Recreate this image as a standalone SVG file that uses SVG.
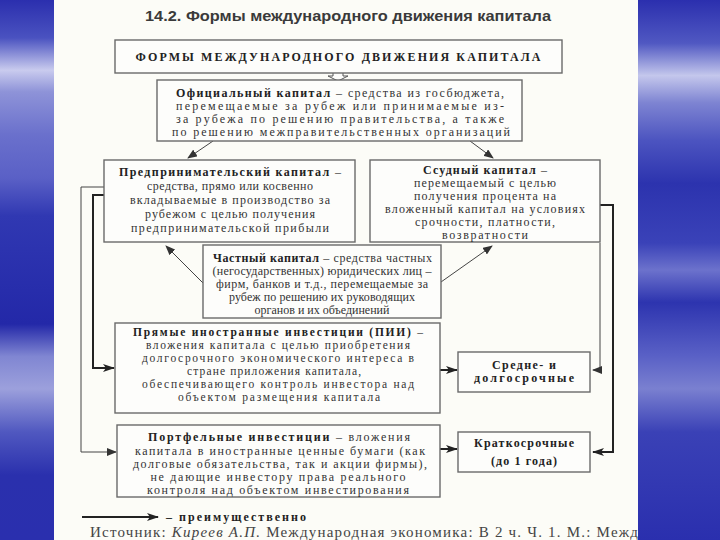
<svg xmlns="http://www.w3.org/2000/svg" width="720" height="540" viewBox="0 0 720 540">
<defs>
<linearGradient id="bandL" x1="0" y1="0" x2="0" y2="1">
<stop offset="0" stop-color="#2b2fae"/>
<stop offset="0.07" stop-color="#4a52c0"/>
<stop offset="0.13" stop-color="#c9cbee"/>
<stop offset="0.17" stop-color="#8e93d8"/>
<stop offset="0.25" stop-color="#6a70cc"/>
<stop offset="0.33" stop-color="#5a60c6"/>
<stop offset="0.40" stop-color="#3038b2"/>
<stop offset="0.60" stop-color="#2328a8"/>
<stop offset="0.66" stop-color="#8086d2"/>
<stop offset="0.72" stop-color="#9ca0dc"/>
<stop offset="0.80" stop-color="#5058c0"/>
<stop offset="0.88" stop-color="#2a30ad"/>
<stop offset="1" stop-color="#2a2fae"/>
</linearGradient>
<linearGradient id="bandR" x1="0" y1="0" x2="0" y2="1">
<stop offset="0" stop-color="#2b2fae"/>
<stop offset="0.08" stop-color="#5058c2"/>
<stop offset="0.14" stop-color="#c4c7ec"/>
<stop offset="0.19" stop-color="#7e84d2"/>
<stop offset="0.26" stop-color="#4c54c0"/>
<stop offset="0.34" stop-color="#2c33ae"/>
<stop offset="0.45" stop-color="#3a42b8"/>
<stop offset="0.50" stop-color="#6c72cc"/>
<stop offset="0.56" stop-color="#2d34af"/>
<stop offset="0.66" stop-color="#5a61c6"/>
<stop offset="0.72" stop-color="#7a80d0"/>
<stop offset="0.80" stop-color="#3a41b6"/>
<stop offset="1" stop-color="#2a2fae"/>
</linearGradient>
<marker id="ah" viewBox="0 0 10 8" refX="9" refY="4" markerWidth="10" markerHeight="8" markerUnits="userSpaceOnUse" orient="auto">
<path d="M0,0 L10,4 L0,8 Z" fill="#333"/>
</marker>
<marker id="ahB" viewBox="0 0 12 8" refX="11" refY="4" markerWidth="12" markerHeight="8" markerUnits="userSpaceOnUse" orient="auto">
<path d="M0,0 L12,4 L0,8 L3,4 Z" fill="#222"/>
</marker>
<clipPath id="page"><rect x="54" y="0" width="584" height="540"/></clipPath>
</defs>
<style>
.box{fill:#fdfdfb;stroke:#6a6a6a;stroke-width:1.4}
.t{font-family:"Liberation Serif","Times New Roman",serif;font-size:12px;fill:#333}
.s{font-size:11.5px}
.c{text-anchor:middle}
.b{font-weight:bold;fill:#222}
.ln{fill:none;stroke:#444;stroke-width:1}
.lnB{fill:none;stroke:#222;stroke-width:2}
</style>
<rect x="0" y="0" width="720" height="540" fill="#fcfcf7"/>
<rect x="0" y="0" width="54" height="540" fill="url(#bandL)"/>
<rect x="638" y="0" width="82" height="540" fill="url(#bandR)"/>

<text x="348" y="21" text-anchor="middle" font-family="Liberation Sans, Arial, sans-serif" font-size="15.5" font-weight="bold" fill="#3a3a3a" textLength="406" lengthAdjust="spacingAndGlyphs">14.2. Формы международного движения капитала</text>

<g id="connectors">
<path class="ln" d="M213,141 L188,158" marker-end="url(#ah)"/>
<path class="ln" d="M470,141 L493,158" marker-end="url(#ah)"/>
<path class="ln" d="M203,283 L166,246" marker-end="url(#ah)"/>
<path class="ln" d="M441,282 L492,246" marker-end="url(#ah)"/>
<path class="lnB" d="M104,195 H93 V368 H114" marker-end="url(#ahB)"/>
<path class="ln" d="M104,187 H81 V452 H116" marker-end="url(#ah)"/>
<path class="lnB" d="M440,370 H457" marker-end="url(#ahB)"/>
<path class="lnB" d="M440,449 H457" marker-end="url(#ahB)"/>
<path class="lnB" d="M600,205 H613 V452 H593" marker-end="url(#ahB)"/>
<path class="ln" d="M600,243 V370 H593" marker-end="url(#ah)"/>
<path d="M333,73 V76 H328 L338,81 L348,76 H343 V73" fill="#fdfdfb" stroke="#555" stroke-width="1"/>
</g>

<g id="n-forms">
<rect class="box" x="115" y="40" width="447" height="33"/>
<text class="t c b" x="338" y="61" font-size="12" textLength="405" lengthAdjust="spacing">ФОРМЫ МЕЖДУНАРОДНОГО ДВИЖЕНИЯ КАПИТАЛА</text>
</g>

<g id="n-official">
<rect class="box" x="157" y="80" width="365" height="61"/>
<text class="t" x="176" y="97" textLength="328" lengthAdjust="spacing"><tspan class="b">Официальный капитал</tspan> – средства из госбюджета,</text>
<text class="t" x="176" y="110" textLength="328" lengthAdjust="spacing">перемещаемые за рубеж или принимаемые из-</text>
<text class="t" x="176" y="123" textLength="328" lengthAdjust="spacing">за рубежа по решению правительства, а также</text>
<text class="t" x="172" y="136" textLength="338" lengthAdjust="spacing">по решению межправительственных организаций</text>
</g>

<g id="n-entrepreneurial">
<rect class="box" x="104" y="160" width="251" height="82"/>
<text class="t c" x="230" y="176" textLength="222" lengthAdjust="spacing"><tspan class="b">Предпринимательский капитал</tspan> –</text>
<text class="t c" x="230" y="190" textLength="166" lengthAdjust="spacing">средства, прямо или косвенно</text>
<text class="t c" x="230" y="204" textLength="200" lengthAdjust="spacing">вкладываемые в производство за</text>
<text class="t c" x="230" y="218" textLength="170" lengthAdjust="spacing">рубежом с целью получения</text>
<text class="t c" x="230" y="232" textLength="198" lengthAdjust="spacing">предпринимательской прибыли</text>
</g>

<g id="n-loan">
<rect class="box" x="370" y="160" width="230" height="82"/>
<text class="t c" x="485" y="174" textLength="124" lengthAdjust="spacing"><tspan class="b">Ссудный капитал</tspan> –</text>
<text class="t c" x="485" y="187" textLength="142" lengthAdjust="spacing">перемещаемый с целью</text>
<text class="t c" x="485" y="200" textLength="142" lengthAdjust="spacing">получения процента на</text>
<text class="t c" x="485" y="213" textLength="200" lengthAdjust="spacing">вложенный капитал на условиях</text>
<text class="t c" x="485" y="226" textLength="140" lengthAdjust="spacing">срочности, платности,</text>
<text class="t c" x="485" y="239" textLength="86" lengthAdjust="spacing">возвратности</text>
</g>

<g id="n-private">
<rect class="box" x="203" y="245" width="238" height="73"/>
<text class="t" x="213" y="262" textLength="219" lengthAdjust="spacing"><tspan class="b">Частный капитал</tspan> – средства   частных</text>
<text class="t c" x="322" y="275" textLength="219" lengthAdjust="spacing">(негосударственных) юридических лиц –</text>
<text class="t c" x="322" y="288" textLength="212" lengthAdjust="spacing">фирм, банков и т.д., перемещаемые за</text>
<text class="t c" x="322" y="301" textLength="186" lengthAdjust="spacing">рубеж по решению их руководящих</text>
<text class="t c" x="322" y="314">органов и их объединений</text>
</g>

<g id="n-fdi">
<rect class="box" x="115" y="323" width="325" height="90"/>
<text class="t s c" x="278" y="336" textLength="290" lengthAdjust="spacing"><tspan class="b">Прямые  иностранные инвестиции (ПИИ)</tspan> –</text>
<text class="t s c" x="278" y="349" textLength="264" lengthAdjust="spacing">вложения капитала с целью приобретения</text>
<text class="t s c" x="278" y="362" textLength="272" lengthAdjust="spacing">долгосрочного экономического интереса в</text>
<text class="t s c" x="274" y="375" textLength="174" lengthAdjust="spacing">стране приложения капитала,</text>
<text class="t s c" x="278" y="388" textLength="272" lengthAdjust="spacing">обеспечивающего контроль инвестора над</text>
<text class="t s c" x="279" y="401" textLength="202" lengthAdjust="spacing">объектом размещения капитала</text>
</g>

<g id="n-portfolio">
<rect class="box" x="117" y="425" width="323" height="72"/>
<text class="t c" x="279" y="441" textLength="262" lengthAdjust="spacing"><tspan class="b">Портфельные инвестиции</tspan> – вложения</text>
<text class="t c" x="280" y="455" textLength="290" lengthAdjust="spacing">капитала в иностранные ценные бумаги (как</text>
<text class="t c" x="280" y="468" textLength="294" lengthAdjust="spacing">долговые обязательства, так и акции фирмы),</text>
<text class="t c" x="278" y="481" textLength="255" lengthAdjust="spacing">не дающие инвестору права реального</text>
<text class="t c" x="278" y="494" textLength="262" lengthAdjust="spacing">контроля над объектом инвестирования</text>
</g>

<g id="n-longterm">
<rect class="box" x="458" y="352" width="132" height="40"/>
<text class="t c b" x="524" y="369" textLength="64" lengthAdjust="spacing">Средне- и</text>
<text class="t c b" x="524" y="382" textLength="100" lengthAdjust="spacing">долгосрочные</text>
</g>

<g id="n-shortterm">
<rect class="box" x="458" y="432" width="132" height="40"/>
<text class="t c b" x="524" y="447" textLength="100" lengthAdjust="spacing">Краткосрочные</text>
<text class="t c b" x="524" y="465" textLength="66" lengthAdjust="spacing">(до 1 года)</text>
</g>

<g id="legend">
<path class="lnB" d="M82,517 H158" marker-end="url(#ahB)"/>
<text class="t b" x="166" y="521" textLength="140" lengthAdjust="spacing">– преимущественно</text>
</g>

<text clip-path="url(#page)" x="90" y="537" font-family="Liberation Serif, Times New Roman, serif" font-size="15" fill="#444" textLength="548" lengthAdjust="spacing">Источник: <tspan font-style="italic">Киреев А.П.</tspan> Международная экономика: В 2 ч. Ч. 1. М.: Межд</text>
</svg>
